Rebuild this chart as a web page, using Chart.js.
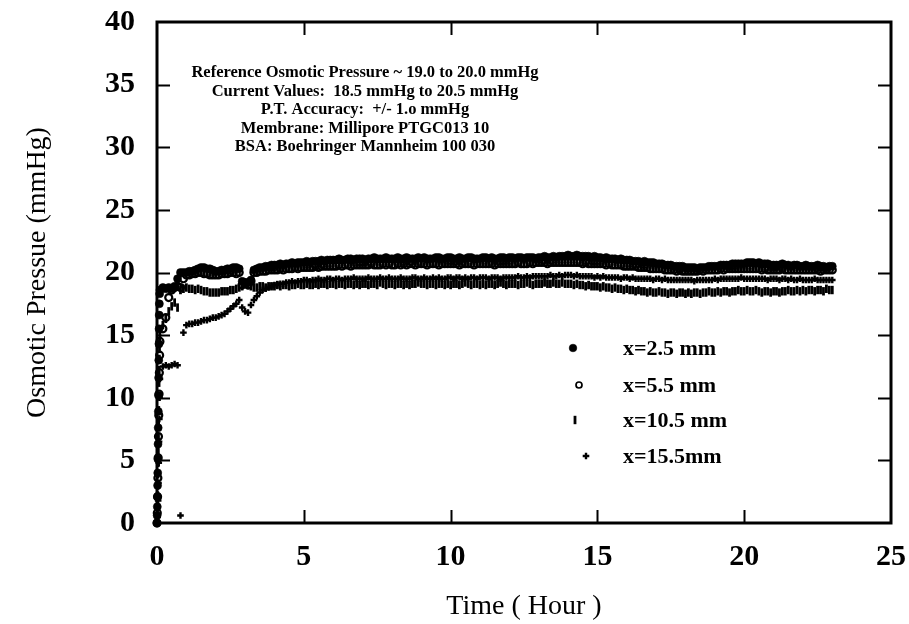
<!DOCTYPE html>
<html>
<head>
<meta charset="utf-8">
<script src="https://cdn.jsdelivr.net/npm/chart.js@4.4.0/dist/chart.umd.min.js"></script>
<style>
  html, body { margin: 0; padding: 0; background: #ffffff; }
  #wrap { width: 909px; height: 624px; }
</style>
</head>
<body>
<div id="wrap"><canvas id="chart" width="909" height="624"></canvas></div>
<script>
// Osmotic pressure readings (mmHg) at four membrane distances.
// Start-up readings (first few minutes) are listed with their own times;
// after that the logger records every 0.1 h from 0.1 h to 23.0 h.

const seriesNames = ['x=2.5 mm', 'x=5.5 mm', 'x=10.5 mm', 'x=15.5mm'];

const xTicks = [0, 5, 10, 15, 20, 25];
const yTicks = [0, 5, 10, 15, 20, 25, 30, 35, 40];

const notes = [
  'Reference Osmotic Pressure ~ 19.0 to 20.0 mmHg',
  'Current Values:  18.5 mmHg to 20.5 mmHg',
  'P.T. Accuracy:  +/- 1.o mmHg',
  'Membrane: Millipore PTGC013 10',
  'BSA: Boehringer Mannheim 100 030'
];

// start-up readings: hours and mmHg
const startHours1 = [0, 0.005, 0.01, 0.015, 0.02, 0.025, 0.03, 0.035, 0.04, 0.045, 0.05, 0.055, 0.06, 0.065, 0.07, 0.075, 0.08, 0.09];
const startP1     = [0, 0.6, 1.3, 2.1, 3.0, 4.0, 5.1, 6.3, 7.6, 8.9, 10.2, 11.6, 13.0, 14.3, 15.5, 16.6, 17.5, 18.3];
const startHours2 = [0, 0.01, 0.02, 0.03, 0.04, 0.05, 0.06, 0.07, 0.08, 0.09];
const startP2     = [0, 0.8, 2.1, 3.6, 5.2, 6.9, 8.6, 10.3, 12.0, 13.4];
const startHours3 = [0, 0.01, 0.015, 0.02, 0.025, 0.03, 0.035, 0.04, 0.045, 0.05, 0.055, 0.06, 0.065, 0.07, 0.075, 0.08, 0.085, 0.09];
const startP3     = [0, 0.4, 0.9, 1.5, 2.2, 3.0, 3.9, 4.8, 5.8, 6.8, 7.9, 9.0, 10.1, 11.2, 12.2, 13.1, 13.9, 14.5];
const startHours4 = [0, 0.02, 0.04, 0.05, 0.06, 0.07, 0.08, 0.09];
const startP4     = [0, 0.5, 1.8, 3.2, 4.8, 6.5, 8.3, 10.0];

// logged readings, one row per hour (k.1 ... k+1.0 h)
const loggedP1 = [
  18.6, 18.8, 18.7, 18.8, 18.7, 18.9, 19.5, 20.0, 20.0, 20.0,
  20.1, 20.1, 20.2, 20.3, 20.4, 20.4, 20.3, 20.3, 20.2, 20.1,
  20.1, 20.2, 20.2, 20.3, 20.3, 20.4, 20.4, 20.3, 19.3, 19.1,
  19.2, 19.4, 20.2, 20.3, 20.4, 20.4, 20.5, 20.5, 20.6, 20.6,
  20.6, 20.7, 20.6, 20.7, 20.7, 20.8, 20.7, 20.8, 20.8, 20.8,
  20.9, 20.8, 20.9, 20.9, 20.9, 21.0, 20.9, 21.0, 21.0, 21.0,
  21.0, 21.1, 21.0, 21.0, 21.1, 21.1, 21.0, 21.1, 21.1, 21.1,
  21.0, 21.1, 21.1, 21.2, 21.1, 21.1, 21.1, 21.2, 21.1, 21.1,
  21.1, 21.2, 21.1, 21.1, 21.2, 21.1, 21.1, 21.1, 21.2, 21.1,
  21.2, 21.1, 21.1, 21.1, 21.2, 21.2, 21.1, 21.1, 21.2, 21.2,
  21.1, 21.1, 21.2, 21.1, 21.1, 21.2, 21.2, 21.1, 21.1, 21.1,
  21.2, 21.2, 21.1, 21.2, 21.1, 21.1, 21.2, 21.2, 21.1, 21.2,
  21.2, 21.1, 21.2, 21.2, 21.1, 21.2, 21.2, 21.2, 21.1, 21.2,
  21.2, 21.3, 21.2, 21.2, 21.3, 21.2, 21.3, 21.3, 21.3, 21.4,
  21.3, 21.3, 21.4, 21.3, 21.3, 21.3, 21.3, 21.2, 21.3, 21.2,
  21.2, 21.1, 21.2, 21.1, 21.1, 21.1, 21.0, 21.1, 21.0, 21.0,
  21.0, 20.9, 20.9, 20.9, 20.8, 20.9, 20.8, 20.8, 20.8, 20.7,
  20.7, 20.7, 20.6, 20.6, 20.6, 20.5, 20.5, 20.5, 20.5, 20.4,
  20.4, 20.4, 20.4, 20.3, 20.4, 20.4, 20.4, 20.5, 20.5, 20.5,
  20.5, 20.6, 20.6, 20.6, 20.6, 20.7, 20.7, 20.7, 20.7, 20.7,
  20.8, 20.8, 20.8, 20.7, 20.8, 20.7, 20.7, 20.7, 20.6, 20.6,
  20.6, 20.6, 20.7, 20.6, 20.6, 20.5, 20.6, 20.6, 20.5, 20.5,
  20.6, 20.5, 20.5, 20.5, 20.6, 20.5, 20.5, 20.4, 20.5, 20.5
];

const loggedP2 = [
  14.5, 15.5, 16.4, 18.0, 18.6, 18.8, 18.9, 18.8, 19.5, 19.8,
  19.8, 19.9, 19.9, 20.0, 20.0, 19.9, 19.9, 19.8, 19.8, 19.8,
  19.8, 19.9, 19.9, 19.9, 20.0, 20.0, 19.9, 20.0, 19.0, 19.2,
  19.0, 19.3, 20.0, 20.0, 20.1, 20.1, 20.1, 20.2, 20.2, 20.2,
  20.2, 20.3, 20.2, 20.3, 20.3, 20.3, 20.4, 20.3, 20.4, 20.4,
  20.4, 20.4, 20.4, 20.5, 20.4, 20.5, 20.5, 20.5, 20.5, 20.5,
  20.5, 20.6, 20.5, 20.6, 20.6, 20.5, 20.6, 20.6, 20.6, 20.6,
  20.6, 20.6, 20.7, 20.6, 20.6, 20.6, 20.7, 20.6, 20.7, 20.6,
  20.6, 20.7, 20.6, 20.7, 20.6, 20.7, 20.7, 20.6, 20.7, 20.7,
  20.7, 20.6, 20.7, 20.7, 20.7, 20.6, 20.7, 20.7, 20.7, 20.7,
  20.7, 20.7, 20.6, 20.7, 20.7, 20.7, 20.7, 20.6, 20.7, 20.7,
  20.7, 20.7, 20.7, 20.7, 20.6, 20.7, 20.7, 20.7, 20.7, 20.7,
  20.7, 20.7, 20.8, 20.7, 20.7, 20.7, 20.8, 20.7, 20.8, 20.8,
  20.8, 20.8, 20.7, 20.8, 20.8, 20.8, 20.8, 20.8, 20.8, 20.8,
  20.8, 20.8, 20.8, 20.8, 20.7, 20.8, 20.7, 20.7, 20.7, 20.7,
  20.7, 20.7, 20.6, 20.7, 20.6, 20.6, 20.6, 20.6, 20.5, 20.5,
  20.5, 20.5, 20.5, 20.4, 20.4, 20.4, 20.4, 20.3, 20.3, 20.3,
  20.3, 20.3, 20.2, 20.2, 20.2, 20.2, 20.1, 20.2, 20.1, 20.1,
  20.1, 20.1, 20.1, 20.1, 20.2, 20.1, 20.2, 20.2, 20.2, 20.2,
  20.2, 20.3, 20.2, 20.3, 20.3, 20.3, 20.3, 20.3, 20.3, 20.3,
  20.3, 20.3, 20.3, 20.3, 20.3, 20.2, 20.3, 20.2, 20.2, 20.2,
  20.2, 20.2, 20.3, 20.2, 20.2, 20.2, 20.2, 20.2, 20.2, 20.2,
  20.2, 20.2, 20.2, 20.2, 20.2, 20.1, 20.2, 20.2, 20.2, 20.2
];

const loggedP3 = [
  15.0, 15.8, 16.3, 16.9, 17.3, 17.6, 17.2, 18.6, 18.7, 18.8,
  18.7, 18.7, 18.6, 18.7, 18.6, 18.5, 18.5, 18.4, 18.4, 18.4,
  18.4, 18.5, 18.5, 18.5, 18.6, 18.6, 18.7, 18.8, 18.9, 19.1,
  19.0, 18.9, 18.8, 18.8, 18.9, 18.9, 18.8, 18.9, 18.9, 18.9,
  19.0, 18.9, 19.0, 19.0, 18.9, 19.0, 19.0, 19.1, 19.0, 19.0,
  19.1, 19.0, 19.0, 19.1, 19.0, 19.1, 19.1, 19.0, 19.1, 19.1,
  19.0, 19.1, 19.1, 19.0, 19.1, 19.1, 19.0, 19.1, 19.0, 19.1,
  19.1, 19.0, 19.1, 19.1, 19.0, 19.2, 19.1, 19.0, 19.1, 19.1,
  19.0, 19.1, 19.1, 19.0, 19.1, 19.0, 19.1, 19.1, 19.2, 19.1,
  19.1, 19.0, 19.1, 19.1, 19.0, 19.1, 19.1, 19.0, 19.1, 19.0,
  19.1, 19.1, 19.0, 19.1, 19.2, 19.1, 19.0, 19.1, 19.1, 19.0,
  19.1, 19.0, 19.1, 19.1, 19.0, 19.1, 19.2, 19.1, 19.0, 19.1,
  19.1, 19.1, 19.0, 19.1, 19.1, 19.2, 19.1, 19.0, 19.1, 19.1,
  19.1, 19.2, 19.1, 19.1, 19.2, 19.1, 19.1, 19.2, 19.1, 19.1,
  19.1, 19.0, 19.1, 19.0, 19.0, 18.9, 19.0, 18.9, 18.9, 18.9,
  18.8, 18.9, 18.8, 18.8, 18.7, 18.8, 18.7, 18.7, 18.6, 18.7,
  18.6, 18.6, 18.5, 18.6, 18.5, 18.5, 18.4, 18.5, 18.4, 18.4,
  18.5, 18.4, 18.4, 18.3, 18.4, 18.4, 18.3, 18.4, 18.4, 18.3,
  18.4, 18.3, 18.4, 18.4, 18.3, 18.4, 18.4, 18.5, 18.4, 18.4,
  18.5, 18.4, 18.5, 18.5, 18.4, 18.5, 18.5, 18.6, 18.5, 18.5,
  18.6, 18.5, 18.5, 18.6, 18.5, 18.4, 18.5, 18.5, 18.4, 18.5,
  18.5, 18.4, 18.5, 18.5, 18.6, 18.5, 18.5, 18.6, 18.5, 18.6,
  18.5, 18.6, 18.6, 18.5, 18.6, 18.6, 18.5, 18.7, 18.6, 18.6
];

const loggedP4 = [
  11.5, 12.5, 12.6, 12.5, 12.6, 12.7, 12.6, 0.6, 15.2, 15.8,
  15.9, 15.9, 16.0, 16.0, 16.1, 16.2, 16.2, 16.3, 16.4, 16.4,
  16.5, 16.6, 16.7, 16.9, 17.1, 17.3, 17.5, 17.8, 17.2, 16.9,
  16.8, 17.4, 17.8, 18.1, 18.4, 18.6, 18.7, 18.8, 18.9, 19.0,
  19.0, 19.1, 19.1, 19.2, 19.2, 19.3, 19.2, 19.3, 19.3, 19.4,
  19.4, 19.3, 19.4, 19.4, 19.5, 19.4, 19.4, 19.5, 19.5, 19.4,
  19.5, 19.5, 19.4, 19.5, 19.5, 19.5, 19.6, 19.5, 19.5, 19.5,
  19.5, 19.6, 19.5, 19.5, 19.5, 19.6, 19.5, 19.5, 19.6, 19.5,
  19.5, 19.5, 19.6, 19.5, 19.5, 19.5, 19.6, 19.6, 19.5, 19.5,
  19.6, 19.5, 19.5, 19.6, 19.5, 19.6, 19.5, 19.5, 19.6, 19.6,
  19.5, 19.6, 19.6, 19.5, 19.6, 19.5, 19.6, 19.6, 19.5, 19.6,
  19.6, 19.6, 19.5, 19.6, 19.6, 19.6, 19.5, 19.6, 19.6, 19.6,
  19.6, 19.6, 19.7, 19.6, 19.6, 19.7, 19.6, 19.7, 19.7, 19.7,
  19.7, 19.7, 19.7, 19.8, 19.7, 19.7, 19.8, 19.7, 19.8, 19.8,
  19.8, 19.7, 19.8, 19.7, 19.7, 19.7, 19.7, 19.7, 19.6, 19.7,
  19.6, 19.7, 19.6, 19.6, 19.6, 19.6, 19.6, 19.5, 19.6, 19.6,
  19.5, 19.6, 19.5, 19.5, 19.5, 19.5, 19.5, 19.5, 19.4, 19.5,
  19.5, 19.4, 19.5, 19.4, 19.4, 19.4, 19.4, 19.4, 19.4, 19.4,
  19.4, 19.4, 19.3, 19.4, 19.4, 19.4, 19.4, 19.4, 19.4, 19.5,
  19.4, 19.5, 19.5, 19.5, 19.5, 19.5, 19.5, 19.5, 19.6, 19.5,
  19.5, 19.5, 19.5, 19.5, 19.5, 19.5, 19.5, 19.4, 19.5, 19.5,
  19.5, 19.4, 19.5, 19.5, 19.4, 19.5, 19.4, 19.4, 19.5, 19.4,
  19.4, 19.4, 19.4, 19.5, 19.4, 19.4, 19.4, 19.4, 19.4, 19.4
];

// logger schedule
const LOG_START_H = 0.1;
const LOG_STEP_H = 0.1;

function toPoints(startHours, startP, logged) {
  const pts = startHours.map((h, i) => ({ x: h, y: startP[i] }));
  logged.forEach((p, i) => {
    const h = Math.round((LOG_START_H + i * LOG_STEP_H) * 10) / 10;
    pts.push({ x: h, y: p });
  });
  return pts;
}

const SERIF = '"Liberation Serif", "Times New Roman", "DejaVu Serif", serif';
const INK = '#000000';

const markerStyles = [
  { pointStyle: 'circle', radius: 4.0, borderWidth: 0.6, fill: INK },
  { pointStyle: 'circle', radius: 3.5, borderWidth: 2.2, fill: 'rgba(0,0,0,0)' },
  { pointStyle: 'line', rotation: 90, radius: 4.2, borderWidth: 2.8, fill: INK },
  { pointStyle: 'cross', radius: 3.3, borderWidth: 2.4, fill: INK }
];

const pointSets = [
  toPoints(startHours1, startP1, loggedP1),
  toPoints(startHours2, startP2, loggedP2),
  toPoints(startHours3, startP3, loggedP3),
  toPoints(startHours4, startP4, loggedP4)
];

const datasets = pointSets.map((pts, i) => ({
  label: seriesNames[i],
  data: pts,
  showLine: false,
  clip: false,
  pointStyle: markerStyles[i].pointStyle,
  pointRotation: markerStyles[i].rotation || 0,
  pointRadius: markerStyles[i].radius,
  pointBorderWidth: markerStyles[i].borderWidth,
  pointBackgroundColor: markerStyles[i].fill,
  pointBorderColor: INK,
  pointHoverRadius: markerStyles[i].radius
}));

// frame, inward ticks, notes and key
const framePlugin = {
  id: 'frame',
  afterDatasetsDraw(chart) {
    const { ctx, chartArea: a, scales } = chart;
    const xs = scales.x, ys = scales.y;
    const tick = 13;
    ctx.save();
    ctx.strokeStyle = INK;
    ctx.lineCap = 'butt';
    ctx.lineWidth = 2;
    xTicks.forEach(v => {
      if (v === xs.min || v === xs.max) return;
      const px = Math.round(xs.getPixelForValue(v)) + 0.5;
      ctx.beginPath();
      ctx.moveTo(px, a.bottom); ctx.lineTo(px, a.bottom - tick);
      ctx.moveTo(px, a.top); ctx.lineTo(px, a.top + tick);
      ctx.stroke();
    });
    yTicks.forEach(v => {
      if (v === ys.min || v === ys.max) return;
      const py = Math.round(ys.getPixelForValue(v)) + 0.5;
      ctx.beginPath();
      ctx.moveTo(a.left, py); ctx.lineTo(a.left + tick, py);
      ctx.moveTo(a.right, py); ctx.lineTo(a.right - tick, py);
      ctx.stroke();
    });
    ctx.lineWidth = 3;
    ctx.strokeRect(a.left, a.top, a.right - a.left, a.bottom - a.top);
    ctx.restore();
  },
  afterDraw(chart) {
    const { ctx, chartArea: a } = chart;
    ctx.save();
    ctx.fillStyle = INK;
    // notes block
    ctx.font = 'bold 16.5px ' + SERIF;
    ctx.textAlign = 'center';
    ctx.textBaseline = 'middle';
    const cx = a.left + 208, y0 = a.top + 51, dy = 18.5;
    notes.forEach((t, i) => ctx.fillText(t, cx, y0 + i * dy));

    // key
    const keyRows = [
      { sx: 573, y: 348 },
      { sx: 579, y: 385 },
      { sx: 575, y: 420 },
      { sx: 586, y: 456 }
    ];
    ctx.font = 'bold 22px ' + SERIF;
    ctx.textAlign = 'left';
    keyRows.forEach((r, i) => {
      const m = markerStyles[i];
      ctx.lineWidth = m.borderWidth;
      ctx.strokeStyle = INK;
      ctx.fillStyle = INK;
      ctx.beginPath();
      if (m.pointStyle === 'circle') {
        ctx.arc(r.sx, r.y, i === 0 ? 3.8 : 3.0, 0, Math.PI * 2);
        if (i === 0) ctx.fill();
        ctx.lineWidth = i === 0 ? 0.6 : 1.7;
        ctx.stroke();
      } else if (m.pointStyle === 'line') {
        ctx.moveTo(r.sx, r.y - m.radius);
        ctx.lineTo(r.sx, r.y + m.radius);
        ctx.stroke();
      } else {
        ctx.moveTo(r.sx - m.radius, r.y); ctx.lineTo(r.sx + m.radius, r.y);
        ctx.moveTo(r.sx, r.y - m.radius); ctx.lineTo(r.sx, r.y + m.radius);
        ctx.stroke();
      }
      ctx.fillText(seriesNames[i], 623, r.y + 1);
    });
    ctx.restore();
  }
};

new Chart(document.getElementById('chart'), {
  type: 'scatter',
  data: { datasets },
  options: {
    responsive: false,
    devicePixelRatio: 1,
    animation: false,
    events: [],
    layout: { padding: { left: 0, right: 18, top: 22, bottom: 0 } },
    plugins: { legend: { display: false }, tooltip: { enabled: false } },
    scales: {
      x: {
        type: 'linear',
        min: 0, max: 25,
        afterBuildTicks: s => { s.ticks = xTicks.map(v => ({ value: v })); },
        afterFit: s => { s.height = 101; s.paddingLeft = 0; s.paddingRight = 0; },
        grid: { display: false, drawTicks: false },
        border: { display: false },
        ticks: { color: INK, padding: 16, font: { family: SERIF, size: 30, weight: 'bold' } },
        title: {
          display: true, text: 'Time ( Hour )', color: INK,
          font: { family: SERIF, size: 28, weight: 'normal' },
          padding: { top: 0, bottom: 1 }
        }
      },
      y: {
        type: 'linear',
        min: 0, max: 40,
        afterBuildTicks: s => { s.ticks = yTicks.map(v => ({ value: v })); },
        afterFit: s => { s.width = 157; s.paddingTop = 0; s.paddingBottom = 0; },
        grid: { display: false, drawTicks: false },
        border: { display: false },
        ticks: { color: INK, padding: 22, font: { family: SERIF, size: 30, weight: 'bold' } },
        title: {
          display: true, text: 'Osmotic Pressue (mmHg)', color: INK,
          font: { family: SERIF, size: 28, weight: 'normal' },
          padding: { top: 21, bottom: 0 }
        }
      }
    }
  },
  plugins: [framePlugin]
});
</script>
</body>
</html>
